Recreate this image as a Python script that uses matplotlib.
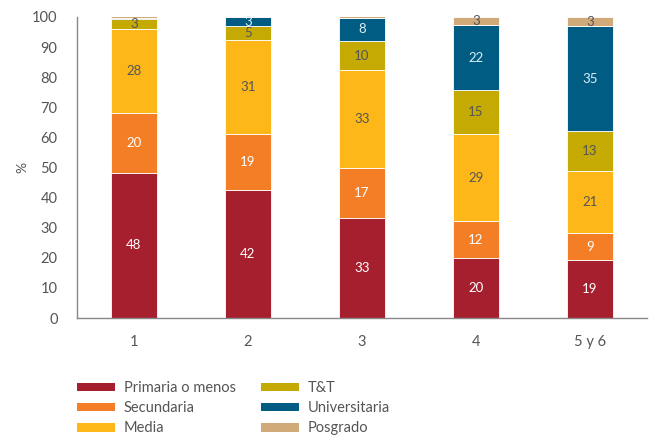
import matplotlib
matplotlib.use('Agg')
import matplotlib.pyplot as plt
import numpy as np
from matplotlib.patches import Patch

plt.rcParams['font.family'] = ['Lato', 'DejaVu Sans']

categorias = ['1', '2', '3', '4', '5 y 6']
niveles = ['Primaria o menos', 'Secundaria', 'Media', 'T&T', 'Universitaria', 'Posgrado']

primaria = [48.2, 42.4, 33.2, 19.9, 19.3]
secundaria = [20.0, 18.6, 16.6, 12.3, 8.9]
media = [27.8, 31.2, 32.6, 28.9, 20.6]
tyt = [3.2, 4.9, 9.6, 14.6, 13.2]
universitaria = [0.5, 2.8, 7.7, 21.6, 35.0]
posgrado = [0.5, 0.4, 0.5, 2.7, 3.0]

series = [primaria, secundaria, media, tyt, universitaria, posgrado]
colores = ['#A51F2E', '#F37E26', '#FDB719', '#C4AA02', '#005C83', '#D1AA7A']
color_texto = ['white', 'white', '#555555', '#555555', '#DDEEF5', '#555555']

fig = plt.figure(figsize=(6.49, 4.37), dpi=100)
ax = fig.add_axes([77 / 649, 1 - 318 / 437, 570 / 649, 301 / 437])

x = np.arange(len(categorias))
base = np.zeros(len(categorias))
for vals, col, tcol in zip(series, colores, color_texto):
    vals = np.array(vals)
    ax.bar(x, vals, width=0.4, bottom=base, color=col, edgecolor='white', linewidth=0.6)
    for xi, b, v in zip(x, base, vals):
        if v >= 2.5:
            ax.text(xi, b + v / 2, f'{round(v)}', ha='center', va='center',
                    fontsize=9.5, color=tcol)
    base += vals

ax.set_xlim(-0.5, 4.5)
ax.set_ylim(0, 100)
ax.set_yticks(range(0, 101, 10))
ax.set_xticks(x)
ax.set_xticklabels(categorias)
ax.tick_params(length=0, labelsize=10.5, labelcolor='#555555')
ax.tick_params(axis='y', pad=14)
ax.tick_params(axis='x', pad=12)
for s in ['top', 'right']:
    ax.spines[s].set_visible(False)
for s in ['left', 'bottom']:
    ax.spines[s].set_color('#888888')
    ax.spines[s].set_linewidth(1.0)
ax.set_ylabel('%', color='#555555', fontsize=10, labelpad=3)

handles = [Patch(facecolor=c, label=n) for c, n in zip(colores, niveles)]
fig.legend(handles=handles, ncol=2, loc='upper left', bbox_to_anchor=(64 / 649, 1 - 368 / 437),
           frameon=False, fontsize=10.5, labelcolor='#555555', handlelength=2.6, handleheight=0.55,
           handletextpad=0.6, columnspacing=1.75, labelspacing=0.42)

fig.savefig('out.png', dpi=100)
